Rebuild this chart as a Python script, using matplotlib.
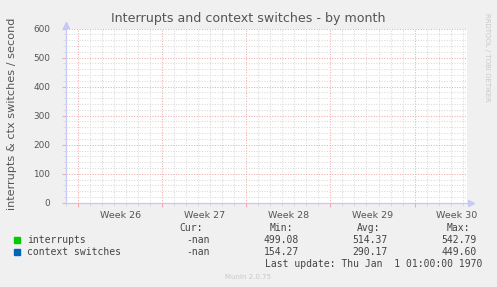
import matplotlib
matplotlib.use("Agg")
import matplotlib.pyplot as plt
import matplotlib.transforms as mtransforms
import numpy as np

W, H = 497, 287

# x axis in days from the left edge of the graph
x_span = 33.42
week_starts = [1.05, 8.05, 15.05, 22.05, 29.05]
week_labels = ["Week 26", "Week 27", "Week 28", "Week 29", "Week 30"]
y_max = 600

series = ["interrupts", "context switches"]
colors = ["#00cc00", "#0066b3"]
cur = ["-nan", "-nan"]
mins = ["499.08", "154.27"]
avgs = ["514.37", "290.17"]
maxs = ["542.79", "449.60"]
last_update = "Last update: Thu Jan  1 01:00:00 1970"

bg = "#f0f0f0"
txt = "#555555"
axcol = "#c8c8f8"


def fx(px):
    return px / W


def fy(py):
    return 1 - py / H


fig = plt.figure(figsize=(W / 100, H / 100), dpi=100, facecolor=bg)
ax = fig.add_axes([fx(65.7), fy(202.7), fx(467 - 65.7), (202.7 - 28.7) / H])
ax.set_facecolor("white")
ax.set_xlim(0, x_span)
ax.set_ylim(0, y_max)

ax.set_yticks(np.arange(0, y_max + 1, 100))
ax.set_yticks(np.arange(0, y_max + 1, 20), minor=True)
ax.set_xticks(week_starts)
ax.set_xticks(np.arange(week_starts[0] - 1, x_span, 1), minor=True)
ax.set_xticklabels([])

ax.grid(which="minor", color="#dadada", linestyle=(0, (1, 1.5)), linewidth=0.75)
ax.grid(which="major", color="#f0aaaa", linestyle=(0, (1, 1.5)), linewidth=0.75)
ax.set_axisbelow(True)

for s in ax.spines.values():
    s.set_visible(False)

ax.tick_params(axis="y", which="major", length=3, color="#f0aaaa", labelsize=6.4,
               labelcolor=txt, pad=8)
ax.tick_params(axis="x", which="major", length=3, color="#f0aaaa")
ax.tick_params(which="minor", length=2, color="#d6d6d6")

for c, lab in zip(week_starts, week_labels):
    ax.text(c + 3.5, -0.05, lab, transform=ax.get_xaxis_transform(),
            ha="center", va="top", fontsize=6.8, color=txt)

# axis lines with arrows
ax.plot([0, 0], [0, 1.03], transform=ax.transAxes, color=axcol, lw=0.9, clip_on=False)
ax.plot([0, 1.008], [0, 0], transform=ax.transAxes, color=axcol, lw=0.9, clip_on=False)
up = mtransforms.offset_copy(ax.transAxes, fig=fig, x=0, y=4, units="dots")
right = mtransforms.offset_copy(ax.transAxes, fig=fig, x=4, y=0, units="dots")
ax.plot([0], [1], marker="^", ms=4.5, color=axcol, transform=up, clip_on=False)
ax.plot([1], [0], marker=">", ms=4.5, color=axcol, transform=right, clip_on=False)

fig.text(fx(248), fy(18.5), "Interrupts and context switches - by month",
         ha="center", va="center", fontsize=9.1, color=txt)
fig.text(fx(12), fy(114), "interrupts & ctx switches / second", rotation=90,
         ha="center", va="center", fontsize=8.1, color=txt)
fig.text(fx(487), fy(57), "RRDTOOL / TOBI OETIKER", rotation=270,
         ha="center", va="center", fontsize=5, color="#c8c8c8")
fig.text(fx(248), fy(277), "Munin 2.0.75", ha="center", va="center",
         fontsize=5, color="#c8c8c8")

mono = dict(family="DejaVu Sans Mono", fontsize=7, color="#444444", va="center")
fig.text(fx(203), fy(228), "Cur:", ha="right", **mono)
fig.text(fx(293), fy(228), "Min:", ha="right", **mono)
fig.text(fx(380), fy(228), "Avg:", ha="right", **mono)
fig.text(fx(470), fy(228), "Max:", ha="right", **mono)
for i, name in enumerate(series):
    yy = 240 + 12 * i
    fig.patches.append(plt.Rectangle((fx(14), fy(yy + 2.7)), fx(5.5), 5.5 / H,
                                     transform=fig.transFigure, color=colors[i]))
    fig.text(fx(27), fy(yy), name, ha="left", **mono)
    fig.text(fx(210), fy(yy), cur[i], ha="right", **mono)
    fig.text(fx(299), fy(yy), mins[i], ha="right", **mono)
    fig.text(fx(388), fy(yy), avgs[i], ha="right", **mono)
    fig.text(fx(477), fy(yy), maxs[i], ha="right", **mono)
fig.text(fx(482), fy(264), last_update, ha="right", **mono)

fig.savefig("out.png", dpi=100, facecolor=bg)
